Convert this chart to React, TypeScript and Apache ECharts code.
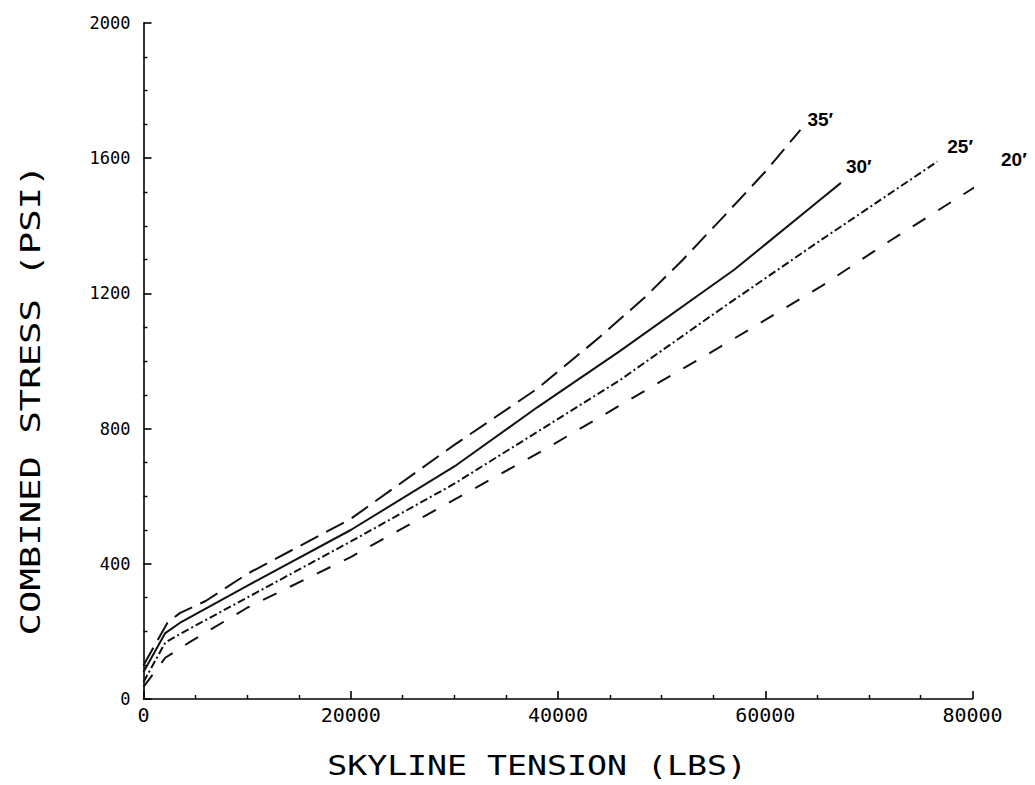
import React, { useEffect, useRef } from "react";
import * as echarts from "echarts";

// Curve labels (angle)
const curveNames = ["35′", "30′", "25′", "20′"];

// Skyline tension (lbs) and combined stress (psi) for each curve
const tension35 = [0, 2300, 3500, 6000, 10000, 20000, 30000, 38000, 44000, 48500, 52000, 56000, 60000, 63400];
const stress35 = [100, 225, 254, 290, 370, 533, 752, 918, 1070, 1192, 1298, 1428, 1560, 1684];

const tension30 = [0, 2100, 3500, 10000, 20000, 30000, 38000, 46000, 57000, 65300, 67300];
const stress30 = [80, 195, 225, 335, 500, 688, 863, 1030, 1270, 1477, 1527];

const tension25 = [0, 2100, 3500, 10000, 20000, 30000, 38300, 46000, 56000, 65000, 76600];
const stress25 = [50, 167, 192, 300, 466, 637, 796, 944, 1160, 1350, 1590];

const tension20 = [0, 2100, 4500, 10000, 20000, 30000, 38300, 48000, 56000, 65300, 72000, 81800];
const stress20 = [36, 122, 169, 270, 420, 590, 731, 905, 1048, 1219, 1355, 1545];

const xTitle = "SKYLINE TENSION (LBS)";
const yTitle = "COMBINED STRESS (PSI)";

export default function App() {
  const ref = useRef<HTMLDivElement>(null);

  useEffect(() => {
    const chart = echarts.init(ref.current as HTMLDivElement, null, { renderer: "svg" });
    const pair = (xs: number[], ys: number[]) => xs.map((x, i) => [x, ys[i]]);
    const datasets = [
      pair(tension35, stress35),
      pair(tension30, stress30),
      pair(tension25, stress25),
      pair(tension20, stress20),
    ];
    const dashes: any[] = [[20, 9], "solid", [8, 3, 2, 3], [15, 15]];
    const labelOffsets = [[7, -10], [5, -16], [10, -15], [27, -28]];
    const ink = "#000";
    const tickFont = "'DejaVu Sans Mono', 'Liberation Mono', monospace";
    const plain = (v: number) => String(v);

    const series = datasets.map((d, i) => ({
      type: "line",
      name: curveNames[i],
      data: d,
      symbol: "none",
      showSymbol: false,
      smooth: false,
      clip: false,
      lineStyle: { color: "#111", width: 2, type: dashes[i] },
      endLabel: {
        show: true,
        formatter: curveNames[i],
        offset: labelOffsets[i],
        distance: 0,
        align: "left",
        verticalAlign: "middle",
        color: ink,
        fontSize: 19,
        fontWeight: "bold",
        fontFamily: "'Liberation Sans', Arial, sans-serif",
      },
    }));

    const axisCommon = {
      type: "value",
      axisLine: { show: true, lineStyle: { color: ink, width: 1.6 } },
      axisTick: { show: true, inside: true, length: 8, lineStyle: { color: ink, width: 1.6 } },
      minorTick: { show: true, splitNumber: 4, length: 4, lineStyle: { color: ink, width: 1.4 } },
      splitLine: { show: false },
      minorSplitLine: { show: false },
    };

    chart.setOption({
      animation: false,
      backgroundColor: "#fff",
      grid: { left: 143.5, right: 62.5, top: 23, bottom: 86, containLabel: false },
      xAxis: {
        ...axisCommon,
        min: 0,
        max: 80000,
        interval: 20000,
        axisLabel: { color: ink, fontSize: 20, fontFamily: tickFont, margin: 6, formatter: plain },
      },
      yAxis: {
        ...axisCommon,
        min: 0,
        max: 2000,
        interval: 400,
        axisLabel: { color: ink, fontSize: 17, fontFamily: tickFont, margin: 13, formatter: plain },
      },
      graphic: [
        {
          type: "text",
          x: 537,
          y: 766,
          scaleX: 1.23,
          style: {
            text: xTitle,
            fontSize: 27,
            fontFamily: tickFont,
            fill: ink,
            align: "center",
            verticalAlign: "middle",
          },
        },
        {
          type: "text",
          x: 31,
          y: 400,
          rotation: Math.PI / 2,
          scaleX: 1.38,
          style: {
            text: yTitle,
            fontSize: 27,
            fontFamily: tickFont,
            fill: ink,
            align: "center",
            verticalAlign: "middle",
          },
        },
      ],
      series,
    });

    return () => chart.dispose();
  }, []);

  return (
    <div
      ref={ref}
      style={{ position: "absolute", left: 0, top: 0, width: 1035, height: 785, background: "#fff" }}
    />
  );
}
